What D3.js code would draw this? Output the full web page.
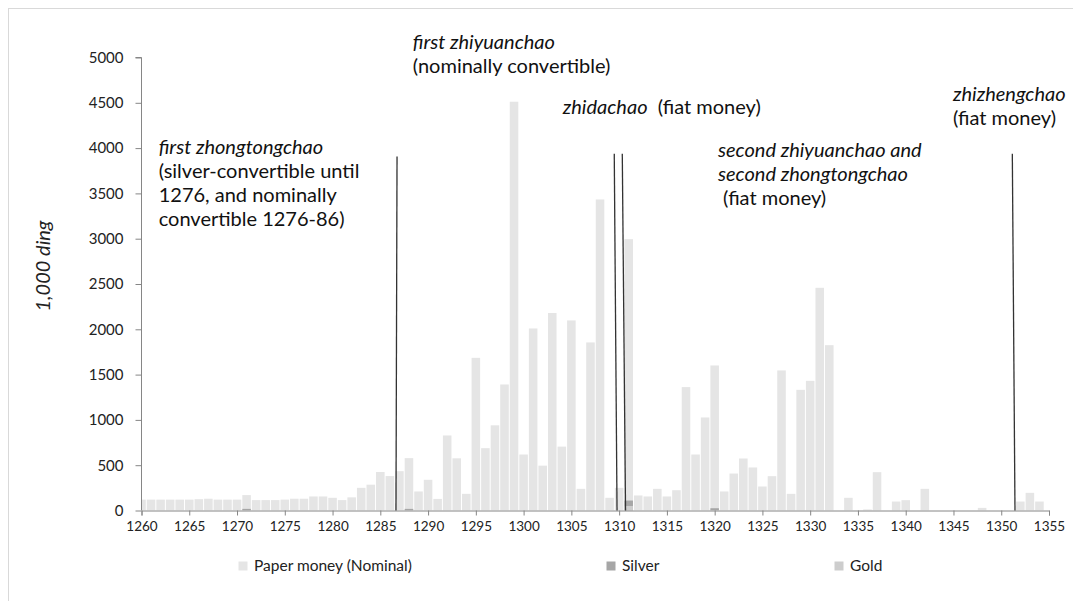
<!DOCTYPE html>
<html>
<head>
<meta charset="utf-8">
<script src="https://cdn.jsdelivr.net/npm/d3@7/dist/d3.min.js"></script>
<style>
  body { margin: 0; background: #fff; }
  svg { font-family: Lato, 'Open Sans', sans-serif; }
  .note { white-space: pre; }
</style>
</head>
<body>
<div class="chart"></div>
<script>
// categories: one bar per year, 1260 .. 1354
var years = d3.range(1260, 1355);

// 1,000 ding per year
var paper = [
  120, 120, 120, 120, 120, 120, 125, 130, 120, 120,   // 1260-1269
  120, 170, 115, 115, 115, 120, 130, 130, 155, 155,   // 1270-1279
  140, 115, 145, 250, 285, 425, 380, 434, 578, 210,   // 1280-1289
  339, 128, 828, 576, 184, 1685, 688, 940, 1391, 4512, // 1290-1299
  618, 2009, 495, 2180, 705, 2098, 239, 1855, 3433, 140, // 1300-1309
  250, 2995, 166, 155, 239, 155, 224, 1362, 618, 1027, // 1310-1319
  1601, 210, 408, 574, 475, 265, 379, 1546, 184, 1332, // 1320-1329
  1431, 2458, 1825, 0, 140, 0, 12, 423, 0, 99,         // 1330-1339
  114, 0, 239, 0, 0, 0, 0, 0, 29, 0,                   // 1340-1349
  0, 0, 99, 195, 99                                    // 1350-1354
];
var silver = { 1271: 18, 1288: 18, 1311: 110, 1320: 25 };
var gold = { 1311: 50 };

var yTicks = [0, 500, 1000, 1500, 2000, 2500, 3000, 3500, 4000, 4500, 5000];
var xTicks = d3.range(1260, 1356, 5);

var legends = [
  {key: 'paper', text: 'Paper money (Nominal)', color: '#e5e5e5', x: 243},
  {key: 'silver', text: 'Silver', color: '#a6a6a6', x: 611},
  {key: 'gold', text: 'Gold', color: '#cdcdcd', x: 839}
];

// issue markers: [year at top, year at bottom, top value]
var markers = [
  [1286.75, 1286.64, 3908],
  [1309.49, 1309.78, 3938],
  [1310.33, 1310.67, 3938],
  [1351.16, 1351.44, 3938]
];

// text boxes, anchored in data units
var notes = [
  {year: 1261.8, value: 3930, lines: [
    [['first zhongtongchao', true]],
    [['(silver-convertible until', false]],
    [['1276, and nominally', false]],
    [['convertible 1276-86)', false]]]},
  {year: 1288.4, value: 5090, lines: [
    [['first zhiyuanchao', true]],
    [['(nominally convertible)', false]]]},
  {year: 1304.1, value: 4380, lines: [
    [['zhidachao', true], ['  (fiat money)', false]]]},
  {year: 1320.35, value: 3900, lines: [
    [['second zhiyuanchao and', true]],
    [['second zhongtongchao', true]],
    [[' (fiat money)', false]]]},
  {year: 1344.95, value: 4520, lines: [
    [['zhizhengchao', true]],
    [['(fiat money)', false]]]}
];

var W = 1073, H = 601;
var svg = d3.select('.chart')
  .append('svg')
    .attr('width', W)
    .attr('height', H);

// chart frame
svg.append('rect')
  .attr('x', 8.5).attr('y', 8.5)
  .attr('width', 1200).attr('height', 1000)
  .attr('fill', 'none')
  .attr('stroke', '#d9d9d9');

var x = d3.scaleLinear().domain([1260, 1355]).range([141.5, 1049]);
var y = d3.scaleLinear().domain([0, 5000]).range([510.5, 57.5]);
var step = x(1261) - x(1260),
  barW = step - 1;

svg.append('clipPath')
    .attr('id', 'plot-clip')
  .append('rect')
    .attr('x', x(1260)).attr('y', 0)
    .attr('width', x(1355) - x(1260)).attr('height', y(0));

var bars = svg.append('g').attr('clip-path', 'url(#plot-clip)');

function drawSeries(vals, color) {
  bars.append('g')
    .selectAll('rect')
    .data(vals.filter(d => d.v > 0))
    .enter()
    .append('rect')
      .attr('x', d => x(d.year) - barW / 2)
      .attr('y', d => y(d.v))
      .attr('width', barW)
      .attr('height', d => y(0) - y(d.v))
      .attr('fill', color);
}
drawSeries(years.map((yr, i) => ({year: yr, v: paper[i]})), legends[0].color);
drawSeries(years.map(yr => ({year: yr, v: silver[yr] || 0})), legends[1].color);
drawSeries(years.map(yr => ({year: yr, v: gold[yr] || 0})), legends[2].color);

// axes
var yAxis = d3.axisLeft(y).tickValues(yTicks).tickSize(6).tickPadding(12).tickFormat(d3.format('d'));
var xAxis = d3.axisBottom(x).tickValues(xTicks).tickSize(5).tickPadding(6).tickFormat(d3.format('d'));

var gY = svg.append('g')
  .attr('transform', `translate(${x(1260)}, 0)`)
  .call(yAxis);
var gX = svg.append('g')
  .attr('transform', `translate(0, ${y(0)})`)
  .call(xAxis);

[gX, gY].forEach(g => {
  g.select('.domain').attr('stroke', '#868686');
  g.selectAll('.tick line').attr('stroke', '#868686');
  g.selectAll('.tick text')
    .attr('fill', '#222')
    .style('font-family', 'Lato, sans-serif');
});
gX.selectAll('.tick text').style('font-size', '13.5px');
gY.selectAll('.tick text').style('font-size', '15px');
gY.select('.domain').attr('d', `M-6,${y(5000)}H0V${y(0)}`);

// axis title
svg.append('text')
  .attr('transform', 'translate(50, 266) rotate(-90)')
  .attr('text-anchor', 'middle')
  .style('font-size', '20px')
  .style('font-style', 'italic')
  .attr('fill', '#222')
  .text('1,000 ding');

// issue marker lines
svg.append('g')
  .selectAll('line')
  .data(markers)
  .enter()
  .append('line')
    .attr('x1', d => x(d[0])).attr('y1', d => y(d[2]))
    .attr('x2', d => x(d[1])).attr('y2', y(0))
    .attr('stroke', '#333')
    .attr('stroke-width', 1.3);

// text boxes
var note = svg.append('g')
  .selectAll('text')
  .data(notes)
  .enter()
  .append('text')
    .attr('class', 'note')
    .attr('fill', '#111')
    .style('font-size', '20px');

note.each(function(d) {
  var t = d3.select(this);
  d.lines.forEach((line, li) => {
    line.forEach((seg, si) => {
      var ts = t.append('tspan')
        .style('font-style', seg[1] ? 'italic' : 'normal')
        .text(seg[0]);
      if (si === 0) ts.attr('x', x(d.year)).attr('y', y(d.value) + li * 23.7);
    });
  });
});

// legend
var legend = svg.selectAll('.legend')
  .data(legends)
  .enter()
  .append('g')
    .attr('class', 'legend')
    .attr('transform', d => `translate(${d.x}, 566)`);

legend.append('rect')
  .attr('x', -4.5).attr('y', -4.5)
  .attr('width', 9).attr('height', 9)
  .attr('fill', d => d.color);

legend.append('text')
  .attr('x', 11)
  .attr('dy', '.35em')
  .style('font-size', '15.5px')
  .attr('fill', '#222')
  .text(d => d.text);
</script>
</body>
</html>
